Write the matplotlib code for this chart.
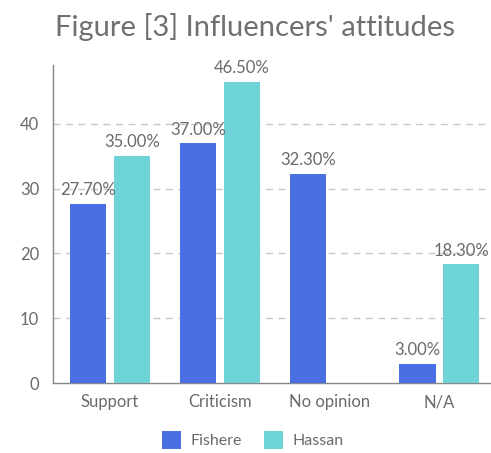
import numpy as np
import matplotlib.pyplot as plt

plt.rcParams['font.family'] = ['Lato', 'DejaVu Sans']

categories = ['Support', 'Criticism', 'No opinion', 'N/A']
fishere = [27.7, 37.0, 32.3, 3.0]
hassan = [35.0, 46.5, None, 18.3]

c_fish = '#4a6fe3'
c_hass = '#6fd4d7'
grey = '#6a6a6a'

fig = plt.figure(figsize=(4.91, 4.53), dpi=100)
ax = fig.add_axes([53 / 491, 1 - 383 / 453, 1 - 53 / 491, (383 - 65) / 453])

x = np.arange(len(categories))
w = 0.33
off = 0.2

for i, v in enumerate(fishere):
    if v is None:
        continue
    ax.bar(x[i] - off, v, w, color=c_fish, label='Fishere' if i == 0 else None, zorder=3)
    ax.text(x[i] - off, v + 0.9, f'{v:.2f}%', ha='center', va='bottom', fontsize=12,
            color=grey, zorder=4)

for i, v in enumerate(hassan):
    if v is None:
        continue
    ax.bar(x[i] + off, v, w, color=c_hass, label='Hassan' if i == 0 else None, zorder=3)
    ax.text(x[i] + off, v + 0.9, f'{v:.2f}%', ha='center', va='bottom', fontsize=12,
            color=grey, zorder=4)

ax.set_xlim(-0.52, 3.47)
ax.set_ylim(0, 49.1)
ax.set_yticks([0, 10, 20, 30, 40])
ax.set_xticks(x)
ax.set_xticklabels(categories)
ax.tick_params(length=0, labelsize=12, colors=grey, pad=8)
ax.tick_params(axis='y', pad=10)

ax.yaxis.grid(True, linestyle=(0, (5, 4)), color='#c8c8c8', linewidth=1, zorder=0)
for gl in ax.yaxis.get_gridlines()[:1]:
    gl.set_visible(False)

for s in ['top', 'right']:
    ax.spines[s].set_visible(False)
for s in ['left', 'bottom']:
    ax.spines[s].set_color('#888888')
    ax.spines[s].set_linewidth(1)

fig.text(0.52, 1 - 27 / 453, "Figure [3] Influencers' attitudes", ha='center', va='center',
         fontsize=21, color='#707070')

fig.legend(loc='center', bbox_to_anchor=(0.515, 1 - 440 / 453), ncol=2, frameon=False,
           labelcolor=grey, handlelength=1.2, handleheight=1.3,
           handletextpad=0.6, columnspacing=1.4, prop={'size': 11.5})

fig.savefig('out.png', dpi=100)
